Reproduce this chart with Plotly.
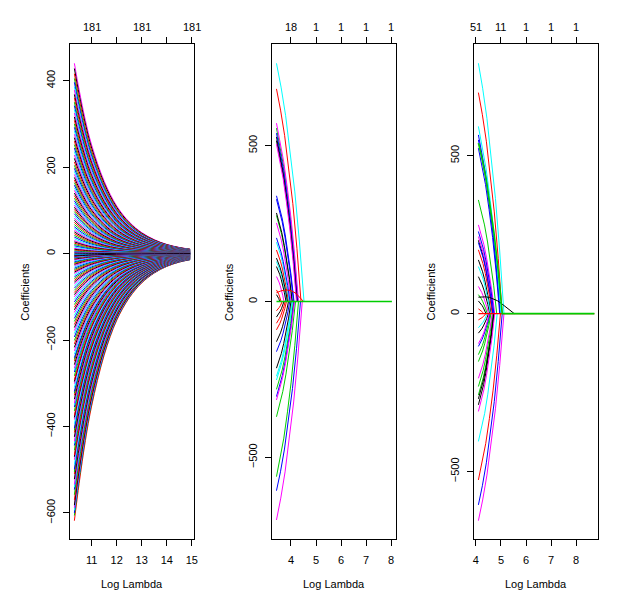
import plotly.graph_objects as go

# R default matplot palette (col = 1:6)
PALETTE = ["black", "red", "#00CD00", "blue", "cyan", "magenta"]

# ---- ridge (alpha = 0) ----
RIDGE_LOGLAMBDA = [10.31, 10.5, 10.75, 11.0, 11.5, 12.0, 12.5, 13.0, 13.5, 14.0, 14.5, 14.93]
RIDGE_SHRINK = [1.0, 0.86, 0.70, 0.57, 0.38, 0.25, 0.166, 0.11, 0.073, 0.048, 0.032, 0.023]
RIDGE_SMALL = [-5, -4, -3, -2, -1]
RIDGE_POS = [440, 428, 416, 405, 396, 386, 378, 368, 360, 350, 342, 333, 325, 316, 308, 300,
             292, 284, 276, 268, 260, 252, 244, 236, 228, 220, 212, 204, 197, 190, 183, 176,
             170, 164, 158, 152, 146, 140, 134, 128, 122, 117, 112, 107, 102, 97, 92, 87, 82,
             77, 72, 67, 62, 58, 54, 50, 46, 42, 38, 34, 30, 27, 24, 21, 18, 15, 12, 10, 8, 6,
             4, 3, 2, 1]
RIDGE_NEG = [-618, -606, -600, -594, -588, -582, -570, -558, -546, -540, -534, -522, -510, -505,
             -499, -488, -477, -470, -466, -455, -444, -439, -434, -424, -414, -409, -404, -394,
             -384, -379, -374, -364, -355, -350, -346, -337, -328, -323, -319, -310, -301, -296,
             -292, -283, -274, -270, -265, -257, -249, -245, -241, -233, -225, -217, -209, -201,
             -193, -185, -178, -171, -164, -157, -150, -143, -136, -130, -124, -118, -112, -106,
             -100, -95, -90, -85, -80, -75, -70, -66, -62, -58, -54, -50, -46, -43, -40, -37,
             -34, -31, -28, -25, -23, -21, -19, -17, -15, -13, -11, -10, -9, -8, -7, -6]
RIDGE_DF = ["181", "181", "181"]
RIDGE_DF_AT = [11, 13, 15]

# ---- lasso (alpha = 1) ----
LASSO_X0, LASSO_X1 = 3.42, 8.03
LASSO_VAR = [5, 2, 6, 3, 4, 1, 7, 12, 10, 16, 13, 9, 18, 22, 11, 8, 19, 17, 25, 24, 14, 31,
             30, 28, 15, 21, 36, 34, 27, 23, 29, 37, 40, 43, 20, 26, 49, 32]
LASSO_START = [764, 682, 572, 556, 540, 528, 516, 505, 339, 328, 284, 276, 252, 204, 190, 165,
               139, 128, 112, 80, 37, 22,
               -701, -607, -562, -370, -316, -305, -282, -252, -240, -214, -161, -129, -91,
               -70, -50, -30]
LASSO_ZERO_AT = [4.52, 4.40, 4.30, 4.28, 4.27, 4.25, 4.24, 4.22, 4.12, 4.10, 4.05, 4.04, 4.00,
                 3.96, 3.93, 3.90, 3.86, 3.84, 3.80, 3.72, 3.60, 3.55,
                 4.45, 4.38, 4.30, 4.18, 4.14, 4.12, 4.10, 4.06, 4.04, 4.00, 3.95, 3.90, 3.82,
                 3.77, 3.72, 3.65]
LASSO_BUMP_VAR = 176
LASSO_BUMP_X = [3.42, 3.6, 3.8, 4.0, 4.2, 4.4, 4.5]
LASSO_BUMP_Y = [28, 34, 37, 35, 26, 10, 0]
LASSO_NULL_VAR = 177
LASSO_DF = ["18", "1", "1", "1", "1"]
LASSO_DF_AT = [4, 5, 6, 7, 8]

# ---- elastic net ----
EN_X0, EN_X1 = 4.10, 8.73
EN_VAR = [5, 2, 11, 4, 10, 177, 16, 9, 6, 22, 12, 1, 28, 8, 7, 17, 13, 18, 33, 19, 38,
          24, 34, 14, 23, 30, 25, 15, 31, 21, 36, 39, 27, 40, 42, 35, 37, 20]
EN_START = [793, 700, 593, 566, 550, 540, 524, 360, 281, 260, 244, 232, 225, 202, 170, 149,
            117, 86, 60, 40, 15,
            -656, -606, -527, -405, -310, -289, -258, -270, -231, -205, -130, -152, -104,
            -95, -45, -62, -20]
EN_ZERO_AT = [5.12, 5.05, 5.00, 4.98, 4.97, 5.05, 4.95, 4.83, 4.75, 4.72, 4.70, 4.68, 4.68,
              4.65, 4.60, 4.58, 4.55, 4.50, 4.45, 4.40, 4.30,
              5.12, 5.05, 4.98, 4.85, 4.75, 4.72, 4.70, 4.71, 4.67, 4.65, 4.57, 4.60, 4.55,
              4.53, 4.45, 4.50, 4.40]
EN_BUMP_VAR = 175
EN_BUMP_X = [4.10, 4.25, 4.4, 4.55, 4.7, 4.85, 5.0, 5.15, 5.3, 5.42, 5.53]
EN_BUMP_Y = [52, 53, 53, 51, 47, 41, 33, 24, 15, 7, 0]
EN_NULL_VAR = 176
EN_LAST_VAR = 177
EN_DF = ["51", "11", "1", "1", "1"]
EN_DF_AT = [4, 5, 6, 7, 8]

# shape of a lasso-type path between its value at the smallest lambda and zero
PATH_T = [0, 1 / 6, 2 / 6, 3 / 6, 4 / 6, 5 / 6, 1]
PATH_F = [1.0, 0.90, 0.78, 0.63, 0.46, 0.25, 0.0]

FONT = "Liberation Sans, Arial, sans-serif"

# page body has an 8px margin, so the figure is laid out in page pixels minus that
OFF = 8
W, H = 637 - 2 * OFF, 602 - 2 * OFF


def fx(px):
  return (px - OFF) / W


def fy(py):
  return 1 - (py - OFF) / H


def var_color(v):
  return PALETTE[(v - 1) % 6]


def sparse_paths(var, start, zero_at, x0, x1, keep_tail):
  # zero tails are only drawn for the path that ends up on top of the zero line
  paths = []
  for v, b, xe in zip(var, start, zero_at):
    xs = [x0 + t * (xe - x0) for t in PATH_T]
    ys = [b * f for f in PATH_F]
    w = 1
    if v in keep_tail:
      xs, ys, w = xs + [x1], ys + [0], 1.6
    paths.append((v, xs, ys, w))
  return paths


fig = go.Figure()

# panel 1: ridge
ridge = RIDGE_SMALL + RIDGE_POS + sorted(RIDGE_NEG)
for i, b in enumerate(ridge):
  fig.add_trace(go.Scatter(
    x=RIDGE_LOGLAMBDA, y=[b * s for s in RIDGE_SHRINK], mode="lines",
    line=dict(color=PALETTE[i % 6], width=1, shape="spline"),
    xaxis="x", yaxis="y", hoverinfo="skip"))

# panel 2: lasso
paths = sparse_paths(LASSO_VAR, LASSO_START, LASSO_ZERO_AT, LASSO_X0, LASSO_X1, [])
paths.append((LASSO_BUMP_VAR, LASSO_BUMP_X, LASSO_BUMP_Y, 1))
paths.append((LASSO_NULL_VAR, [LASSO_X0, LASSO_X1], [0, 0], 1.4))
for v, xs, ys, w in sorted(paths, key=lambda p: p[0]):
  fig.add_trace(go.Scatter(
    x=xs, y=ys, mode="lines", line=dict(color=var_color(v), width=w),
    xaxis="x2", yaxis="y2", hoverinfo="skip"))

# panel 3: elastic net
paths = sparse_paths(EN_VAR, EN_START, EN_ZERO_AT, EN_X0, EN_X1, [EN_LAST_VAR])
paths.append((EN_BUMP_VAR, EN_BUMP_X, EN_BUMP_Y, 1))
paths.append((EN_NULL_VAR, [EN_X0, EN_X1], [0, 0], 1.4))
for v, xs, ys, w in sorted(paths, key=lambda p: p[0]):
  fig.add_trace(go.Scatter(
    x=xs, y=ys, mode="lines", line=dict(color=var_color(v), width=w),
    xaxis="x3", yaxis="y3", hoverinfo="skip"))

Y_DOM = [fy(539.3), fy(44.3)]
panels = [
  # (x px, x range, x ticks, y range, y ticks, df labels, df at, ylab x px)
  ((69.5, 194.5), [10.135, 15.087], [11, 12, 13, 14, 15], [-661, 484],
   [-600, -400, -200, 0, 200, 400], RIDGE_DF, RIDGE_DF_AT, 24),
  ((273.3, 398.3), [3.248, 8.2], [4, 5, 6, 7, 8], [-763, 825],
   [-500, 0, 500], LASSO_DF, LASSO_DF_AT, 230),
  ((477, 602), [3.933, 8.883], [4, 5, 6, 7, 8], [-715, 853],
   [-500, 0, 500], EN_DF, EN_DF_AT, 433),
]

axis_common = dict(showline=True, linecolor="black", linewidth=1, ticks="outside",
                   ticklen=6, tickwidth=1, tickcolor="black", showgrid=False,
                   zeroline=False, tickfont=dict(family=FONT, size=11, color="black"))

annotations = []
for k, (xpx, xr, xt, yr, yt, dfl, dfat, ylab_x) in enumerate(panels, start=1):
  sfx = "" if k == 1 else str(k)
  dom = [fx(xpx[0]), fx(xpx[1])]
  fig.layout["xaxis" + sfx] = dict(
    domain=dom, range=xr, tickvals=xt, anchor="y" + sfx, mirror="allticks",
    ticklabelstandoff=4, **axis_common)
  fig.layout["yaxis" + sfx] = dict(
    domain=Y_DOM, range=yr, tickvals=yt, anchor="x" + sfx, mirror=True,
    tickangle=-90, ticklabelstandoff=4, **axis_common)
  for lab, at in zip(dfl, dfat):
    annotations.append(dict(
      x=at, y=fy(27), xref="x" + sfx, yref="paper", text=lab, showarrow=False,
      xanchor="center", yanchor="middle", font=dict(family=FONT, size=11, color="black")))
  annotations.append(dict(
    x=(dom[0] + dom[1]) / 2, y=fy(584), xref="paper", yref="paper",
    text="Log Lambda", showarrow=False, xanchor="center", yanchor="middle",
    font=dict(family=FONT, size=11, color="black")))
  annotations.append(dict(
    x=fx(ylab_x), y=(Y_DOM[0] + Y_DOM[1]) / 2, xref="paper", yref="paper",
    text="Coefficients", textangle=-90, showarrow=False, xanchor="center",
    yanchor="middle", font=dict(family=FONT, size=11, color="black")))

fig.update_layout(
  width=W, height=H, autosize=False,
  margin=dict(l=0, r=0, t=0, b=0),
  paper_bgcolor="white", plot_bgcolor="white",
  showlegend=False, annotations=annotations,
)

fig.write_html("out.html")
